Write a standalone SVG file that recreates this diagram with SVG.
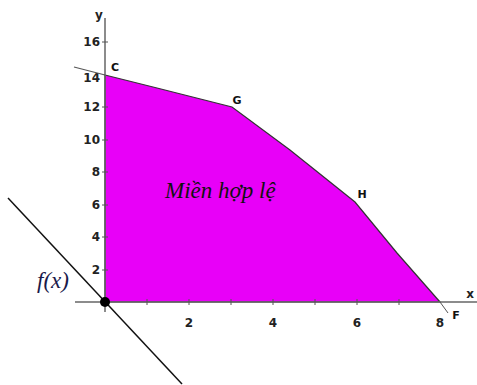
<svg xmlns="http://www.w3.org/2000/svg" width="477" height="385" viewBox="0 0 477 385">
<style>
.ax{stroke:#666;stroke-width:1.5;fill:none}
.tk{stroke:#555;stroke-width:1}
.lb{font-family:"DejaVu Sans",sans-serif;font-weight:bold;font-size:12px;fill:#222}
.pt{font-family:"DejaVu Sans",sans-serif;font-weight:bold;font-size:11px;fill:#111}
.it{font-family:"Liberation Serif",serif;font-style:italic;font-size:23px}
</style>
<rect width="477" height="385" fill="#fff"/>
<g id="region">
<polygon points="105,75 157,88 232,107 290,150 355,202 397,253 440,302 105,302" fill="#E800F8" stroke="#333" stroke-width="1.2"/>
</g>
<g id="axes">
<line class="ax" x1="75" y1="302" x2="477" y2="302"/>
<line class="ax" x1="105" y1="18" x2="105" y2="312"/>
<g class="tk">
<line x1="147" y1="299" x2="147" y2="305"/><line x1="189" y1="299" x2="189" y2="305"/><line x1="231" y1="299" x2="231" y2="305"/><line x1="273" y1="299" x2="273" y2="305"/><line x1="315" y1="299" x2="315" y2="305"/><line x1="357" y1="299" x2="357" y2="305"/><line x1="399" y1="299" x2="399" y2="305"/>
<line x1="102" y1="270" x2="108" y2="270"/><line x1="102" y1="237" x2="108" y2="237"/><line x1="102" y1="205" x2="108" y2="205"/><line x1="102" y1="172" x2="108" y2="172"/><line x1="102" y1="140" x2="108" y2="140"/><line x1="102" y1="107" x2="108" y2="107"/><line x1="102" y1="42" x2="108" y2="42"/>
</g>
<text class="lb" x="99" y="19" text-anchor="middle">y</text>
<text class="lb" x="470" y="298" text-anchor="middle">x</text>
<g text-anchor="end">
<text class="lb" x="100" y="46">16</text>
<text class="lb" x="100" y="82">14</text>
<text class="lb" x="100" y="111">12</text>
<text class="lb" x="100" y="144">10</text>
<text class="lb" x="100" y="176">8</text>
<text class="lb" x="100" y="209">6</text>
<text class="lb" x="100" y="241">4</text>
<text class="lb" x="100" y="274">2</text>
</g>
<g text-anchor="middle">
<text class="lb" x="189" y="327">2</text>
<text class="lb" x="273" y="327">4</text>
<text class="lb" x="357" y="327">6</text>
<text class="lb" x="440" y="327">8</text>
</g>
</g>
<g id="connectors">
<line x1="74" y1="67" x2="105" y2="75" stroke="#555" stroke-width="1.2"/>
<line x1="440" y1="302" x2="448" y2="313" stroke="#555" stroke-width="1"/>
<line x1="8" y1="198" x2="182" y2="384" stroke="#111" stroke-width="1.5"/>
</g>
<g id="labels">
<text class="pt" x="115" y="71" text-anchor="middle">C</text>
<text class="pt" x="237" y="104" text-anchor="middle">G</text>
<text class="pt" x="362" y="198" text-anchor="middle">H</text>
<text class="pt" x="456" y="319" text-anchor="middle" font-weight="normal" font-size="12">F</text>
<text class="it" x="165" y="198" fill="#111">Miền hợp lệ</text>
<text class="it" x="37" y="288" fill="#1a1a4a">f(x)</text>
</g>
<g id="origin"><circle cx="105" cy="302" r="5" fill="#000"/></g>
</svg>
